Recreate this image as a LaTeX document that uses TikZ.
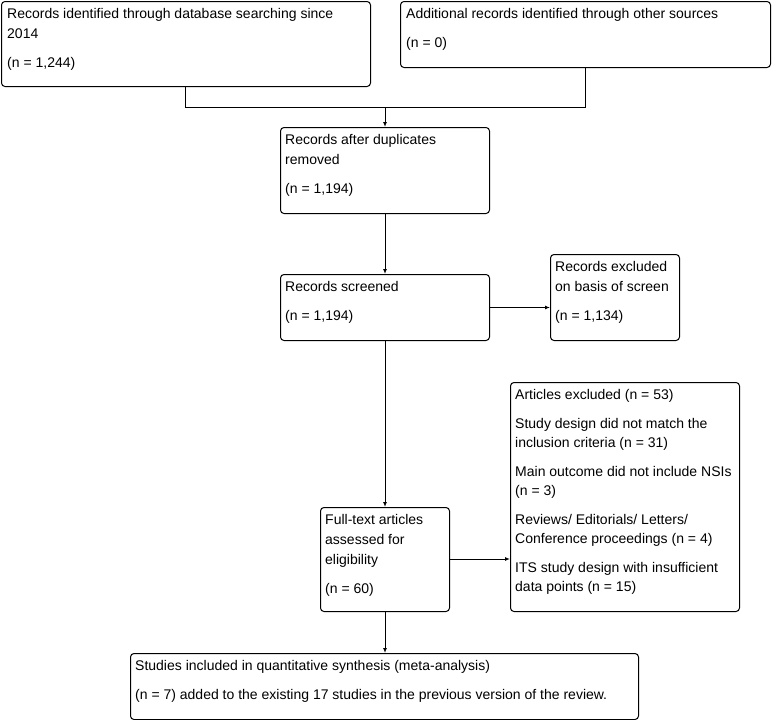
\documentclass[tikz,border=0pt]{standalone}
\usepackage{fontspec}
\setmainfont{Liberation Sans}
\usetikzlibrary{arrows.meta,calc}
\begin{document}
\begin{tikzpicture}[x=1pt,y=-1pt,
  box/.style={draw=black, line width=1pt, rounded corners=3.5pt, inner sep=0pt, anchor=north west},
  txt/.style={anchor=north west, align=left, inner sep=0pt, font=\fontsize{14}{20}\selectfont},
  conn/.style={line width=1pt, draw=black},
  arr/.style={conn, -{Latex[length=5pt,width=4pt]}}]
\useasboundingbox (0,0) rectangle (772,720);
% boxes
\node[box, minimum width=369pt, minimum height=85pt] (A) at (1,1) {};
\node[box, minimum width=370pt, minimum height=66pt] (B) at (400,1) {};
\node[box, minimum width=209pt, minimum height=86pt] (C) at (280,127) {};
\node[box, minimum width=209pt, minimum height=66pt] (D) at (280,274) {};
\node[box, minimum width=129pt, minimum height=86pt] (E) at (550,254) {};
\node[box, minimum width=129pt, minimum height=104pt] (F) at (320,507) {};
\node[box, minimum width=229pt, minimum height=229pt] (G) at (510,382) {};
\node[box, minimum width=508pt, minimum height=66pt] (H) at (130,653) {};
% texts
\node[txt] (At) at ($(A.north west)+(6,7.5)$) {Records identified through database searching since\\2014\\[8.5pt](n = 1,244)};
\node[txt] (Bt) at ($(B.north west)+(6,7.5)$) {Additional records identified through other sources\\[8.5pt](n = 0)};
\node[txt] (Ct) at ($(C.north west)+(5,7.5)$) {Records after duplicates\\removed\\[9pt](n = 1,194)};
\node[txt] (Dt) at ($(D.north west)+(5,7.5)$) {Records screened\\[9pt](n = 1,194)};
\node[txt] (Et) at ($(E.north west)+(5,7.5)$) {Records excluded\\on basis of screen\\[9pt](n = 1,134)};
\node[txt] (Ft) at ($(F.north west)+(5,7)$) {Full-text articles\\assessed for\\eligibility\\[9.5pt](n = 60)};
\node[txt, font=\fontsize{14}{19}\selectfont] (Gt) at ($(G.north west)+(5,7)$) {Articles excluded (n = 53)\\[10pt]Study design did not match the\\inclusion criteria (n = 31)\\[10pt]Main outcome did not include NSIs\\(n = 3)\\[10pt]Reviews/ Editorials/ Letters/\\Conference proceedings (n = 4)\\[10pt]ITS study design with insufficient\\data points (n = 15)};
\node[txt] (Ht) at ($(H.north west)+(5,7.5)$) {Studies included in quantitative synthesis (meta-analysis)\\[9pt](n = 7) added to the existing 17 studies in the previous version of the review.};
% connectors
\coordinate (J1) at (185,107);
\coordinate (J2) at (585,107);
\coordinate (J) at (385,107);
\draw[conn] (A.south -| J1) -- (J1) -- (J2) -- (B.south -| J2);
\draw[arr] (J) -- (J |- C.north);
\draw[arr] (C.south -| J) -- (J |- D.north);
\draw[arr] (D.east) -- (E.west |- D.east);
\draw[arr] (D.south -| J) -- (J |- F.north);
\draw[arr] (F.east |- 0,559) -- (G.west |- 0,559);
\draw[arr] (F.south -| J) -- (J |- H.north);
\end{tikzpicture}
\end{document}
